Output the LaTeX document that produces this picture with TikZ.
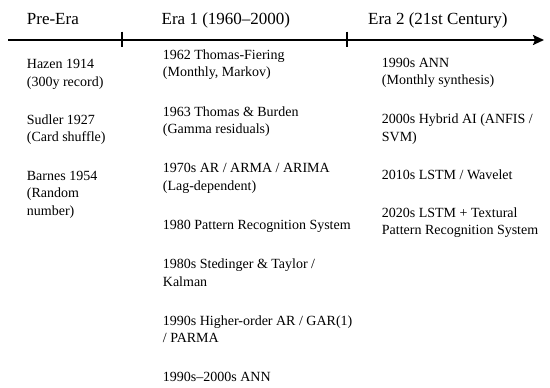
\documentclass[tikz,border=0pt]{standalone}
\usepackage{fontspec}
\setmainfont{Liberation Serif}
\usetikzlibrary{arrows.meta}
\begin{document}
\begin{tikzpicture}[x=1pt,y=-1pt,
  title/.style={anchor=base west, inner sep=0pt, font=\fontsize{17}{20}\selectfont},
  blk/.style={anchor=north west, inner sep=0pt, align=left, font=\fontsize{14}{17.5}\selectfont},
  axis/.style={line width=2pt, -{Stealth[length=11pt,width=10pt,inset=2pt]}},
  tick/.style={line width=2pt}]
\useasboundingbox (0,0) rectangle (550,388);
% axis
\coordinate (as) at (8,40);
\coordinate (ae) at (544,40);
\draw[axis] (as) -- (ae);
\coordinate (t1a) at (121.7,31.5);
\coordinate (t1b) at (121.7,47);
\coordinate (t2a) at (346.7,31.5);
\coordinate (t2b) at (346.7,47);
\draw[tick] (t1a) -- (t1b);
\draw[tick] (t2a) -- (t2b);
% titles
\node[title] (h0) at (26.7,24) {Pre-Era};
\node[title] (h1) at (161.5,24) {Era 1 (1960–2000)};
\node[title] (h2) at (368,24) {Era 2 (21st Century)};
% column 1 (baseline - 12.25)
\node[blk] (p1) at (26.7,56.1) {\strut Hazen 1914\\(300y record)};
\node[blk] (p2) at (26.7,111.8) {\strut Sudler 1927\\(Card shuffle)};
\node[blk] (p3) at (26.7,167.8) {\strut Barnes 1954\\(Random\\number)};
% column 2
\node[blk] (e1) at (162.7,46.8) {\strut 1962 Thomas-Fiering\\(Monthly, Markov)};
\node[blk] (e2) at (162.7,103.8) {\strut 1963 Thomas \& Burden\\(Gamma residuals)};
\node[blk] (e3) at (162.7,160.5) {\strut 1970s AR / ARMA / ARIMA\\(Lag-dependent)};
\node[blk] (e4) at (162.7,216.8) {\strut 1980 Pattern Recognition System};
\node[blk] (e5) at (162.7,256.1) {\strut 1980s Stedinger \& Taylor /\\Kalman};
\node[blk] (e6) at (162.7,312.8) {\strut 1990s Higher-order AR / GAR(1)\\/ PARMA};
\node[blk] (e7) at (162.7,369.5) {\strut 1990s–2000s ANN};
% column 3
\node[blk] (f1) at (381.7,54.7) {\strut 1990s ANN\\(Monthly synthesis)};
\node[blk] (f2) at (381.7,111.2) {\strut 2000s Hybrid AI (ANFIS /\\SVM)};
\node[blk] (f3) at (381.7,167.2) {\strut 2010s LSTM / Wavelet};
\node[blk] (f4) at (381.7,204.7) {\strut 2020s LSTM + Textural\\Pattern Recognition System};
\end{tikzpicture}
\end{document}
